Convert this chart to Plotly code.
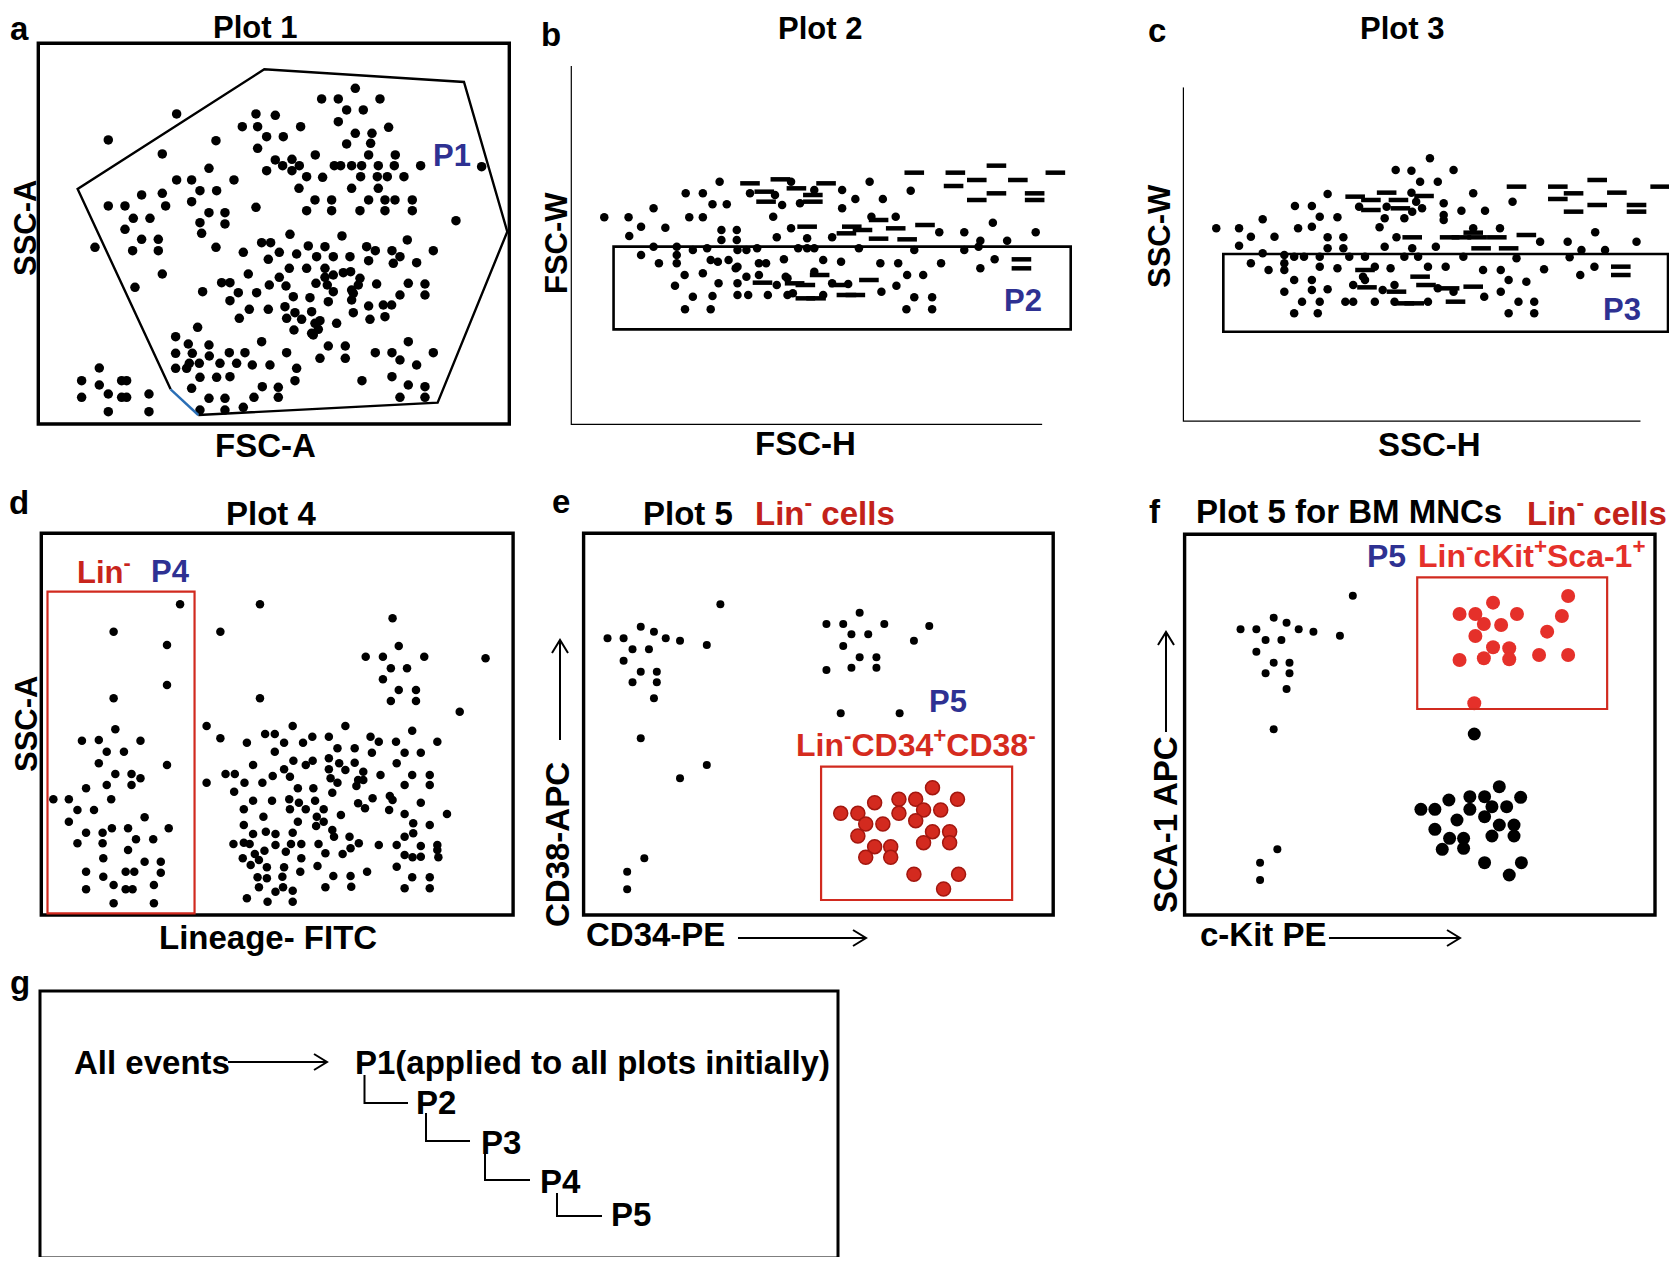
import plotly.graph_objects as go

W, H = 1677, 1265          # reference canvas
PAGE_MARGIN = 8            # default body margin of the written html page
FW, FH = W - 2 * PAGE_MARGIN, H - 2 * PAGE_MARGIN

# ---------------- data (arbitrary instrument units) ----------------
# Plot 1: FSC-A (x) vs SSC-A (y)
plot1_events = [
    (1066,1035),(965,1003),(1015,1003),(1140,1003),(1040,970),(1090,970),(530,958),(768,958),(826,954),
    (1015,935),(1166,918),(727,920),(773,920),(902,920),(1066,900),(1116,900),(800,890),(850,890),
    (325,880),(648,878),(1040,868),(1112,870),(773,855),(487,838),(946,835),(1106,835),(1186,835),
    (826,820),(876,822),(848,803),(898,803),(1003,803),(1022,803),(1055,803),(1085,803),(1135,803),
    (1183,803),(1262,803),(1445,800),(627,795),(800,788),(876,788),(530,760),(575,760),(702,760),
    (920,770),(968,768),(1082,770),(1132,770),(1162,770),(1212,770),(600,728),(650,728),(897,735),
    (1055,735),(1135,735),(425,715),(487,720),(575,695),(945,700),(995,700),(1106,700),(1155,700),
    (1185,700),(1237,700),(325,682),(375,682),(497,682),(768,678),(920,668),(995,668),(1080,668),
    (1155,668),(1237,668),(627,662),(675,662),(400,645),(450,645),(1368,638),(600,632),(675,628),
    (375,612),(605,600),(870,597),(1026,592),(785,572),(812,572),(1222,580),(425,582),(475,582),
    (398,548),(475,548),(648,558),(730,543),(838,543),(925,562),(975,560),(1100,560),(1126,548),
    (1176,548),(1300,548),(285,558),(805,522),(890,538),(950,530),(1000,530),(1050,530),(1106,518),
    (1200,530),(1250,512),(1180,510),(868,495),(920,495),(975,495),(1030,482),(1080,465),(1052,485),
    (745,478),(487,478),(838,468),(975,468),(1000,475),(665,452),(690,452),(808,445),(858,442),
    (948,450),(1075,445),(1130,448),(1225,450),(1275,448),(405,438),(982,445),(608,425),(715,422),
    (770,422),(1000,425),(1060,420),(1275,415),(880,410),(930,407),(1200,415),(1055,430),(690,398),
    (985,395),(1150,385),(1106,382),(1055,400),(855,380),(748,372),(805,372),(885,362),(935,365),
    (1060,362),(1175,385),(718,345),(860,345),(905,342),(960,338),(1110,342),(1155,350),(945,330),
    (1010,330),(882,310),(935,300),(955,312),(593,318),(940,295),(527,290),(565,268),(627,265),
    (785,275),(1225,275),(985,262),(1036,262),(527,240),(577,240),(628,232),(688,242),(735,242),
    (860,242),(1126,242),(1176,242),(1300,242),(1036,225),(960,225),(568,210),(598,210),(660,210),
    (710,210),(757,205),(810,205),(1200,220),(1250,205),(527,195),(560,195),(890,195),(1176,170),
    (600,168),(650,168),(690,170),(885,158),(1086,158),(1225,145),(575,135),(787,140),(835,138),
    (1275,140),(627,105),(675,105),(762,108),(835,108),(1200,108),(1275,108),(600,70),(675,70),
    (730,78),(245,158),(245,108),(298,196),(298,145),(325,118),(325,65),(365,158),(380,158),
    (365,108),(380,108),(447,118),(447,65),
]
plot1_gate_P1 = [(512,132),(233,733),(793,1092),(1392,1054),(1522,605),(1313,92),(595,55)]
plot1_gate_edge = [(512,132),(595,55)]

# Plot 2: FSC-H (x) vs FSC-W (y)
plot2_round = [
    (1150,728),(1035,755),(1072,703),(995,703),(958,730),(615,755),(815,755),(880,730),(700,720),
    (770,715),(840,690),(790,685),(635,687),(595,687),(520,720),(568,720),(430,675),(292,648),
    (360,648),(530,648),(568,648),(765,650),(958,675),(395,620),(463,617),(362,592),(620,610),
    (663,610),(620,580),(663,580),(815,615),(860,585),(775,588),(930,588),(1040,650),(1108,650),
    (1230,603),(1300,603),(1380,632),(1500,603),(1345,578),(1420,578),(430,560),(495,560),(540,550),
    (580,555),(665,550),(690,550),(720,555),(835,555),(860,555),(880,555),(1005,555),(1160,550),
    (1300,550),(1340,560),(395,535),(445,510),(495,535),(495,510),(590,520),(610,515),(640,520),
    (665,500),(725,510),(745,510),(795,522),(905,520),(955,515),(1065,510),(1115,510),(1235,510),
    (1385,522),(1345,495),(517,475),(568,480),(725,475),(800,470),(880,485),(1140,475),(1185,475),
    (660,495),(490,443),(612,450),(665,450),(690,470),(775,445),(805,465),(930,450),(975,448),
    (1110,443),(540,410),(595,412),(665,415),(695,415),(750,415),(805,415),(820,420),(905,415),
    (1068,425),(1160,408),(1210,408),(518,372),(590,372),(1138,372),(1210,372),
]
plot2_flat = [
    (1160,782),(1275,782),(1390,803),(1555,782),(1270,742),(1335,760),(1450,760),(1390,720),
    (1335,700),(1497,720),(1497,700),(700,750),(785,762),(913,750),(740,725),(745,695),(830,735),
    (876,715),(876,695),(860,620),(985,620),(1060,640),(1108,615),(1190,625),(1060,584),(970,600),
    (1015,610),(1140,582),(1460,522),(1460,495),(1033,460),(735,452),(825,450),(855,445),(895,475),
    (950,445),(855,405),(885,405),(970,415),(995,415),
]
plot2_gate_P2 = [(318,312),(1598,560)]
plot2_axes = [(198,1102),(198,25),(1518,25)]

# Plot 3: SSC-H (x) vs SSC-W (y)
plot3_round = [
    (940,825),(853,790),(893,788),(1000,790),(915,755),(960,755),(1150,695),(1050,720),(1080,668),
    (1020,668),(975,690),(680,718),(893,722),(760,680),(830,680),(905,695),(920,675),(895,665),
    (975,655),(975,640),(825,645),(875,645),(660,650),(705,648),(597,682),(640,682),(515,642),
    (397,615),(455,615),(605,615),(640,620),(812,618),(1050,615),(1118,615),(485,590),(545,590),
    (455,563),(680,588),(720,588),(680,555),(720,555),(855,588),(825,560),(895,555),(955,560),
    (1220,575),(1290,575),(1360,603),(1465,575),(1325,550),(1385,550),(515,540),(570,535),(595,530),
    (620,530),(660,530),(735,530),(775,530),(875,530),(910,530),(1025,530),(1160,525),(1295,528),
    (485,510),(530,490),(570,510),(570,490),(660,500),(705,495),(800,500),(840,495),(935,500),
    (980,500),(1075,490),(1120,490),(1230,492),(1358,500),(1322,475),(770,470),(595,460),(640,460),
    (775,460),(1140,460),(1185,455),(570,425),(640,430),(680,432),(745,445),(820,430),(850,445),
    (960,435),(1000,425),(1120,425),(615,395),(660,395),(725,395),(745,395),(800,395),(850,395),
    (935,395),(1078,410),(1165,395),(1205,395),(595,360),(655,360),(1140,360),(1205,360),
]
plot3_flat = [
    (1160,740),(1265,740),(1365,760),(1525,740),(1265,703),(1305,720),(1415,722),(1365,685),
    (1305,665),(1465,685),(1465,665),(750,710),(830,722),(860,700),(925,712),(790,700),(790,670),
    (865,675),(895,588),(990,588),(1020,588),(1050,602),(1060,588),(1110,588),(1185,595),(1070,555),
    (1140,555),(1425,500),(1425,475),(775,490),(915,470),(780,438),(855,425),(930,445),(990,435),
    (1050,440),(875,390),(900,390),(1005,395),
]
plot3_gate_P3 = [(415,305),(1545,538)]
plot3_axes = [(312,1038),(312,35),(1475,35)]

# Plot 4: Lineage-FITC (x) vs SSC-A (y)
plot4_events = [
    (523,997),(330,915),(485,875),(485,755),(330,715),(335,622),(238,588),(287,590),(408,588),
    (310,555),(360,555),(287,520),(485,515),(335,488),(382,488),(408,475),(382,455),(250,445),
    (310,455),(155,412),(200,412),(323,412),(225,380),(273,380),(420,358),(200,345),(250,312),
    (298,312),(325,325),(372,325),(490,325),(225,280),(298,280),(395,292),(445,292),(372,260),
    (300,235),(420,225),(467,225),(250,195),(300,180),(365,195),(390,195),(467,192),(250,142),
    (330,155),(365,142),(385,142),(447,155),(330,100),(447,100),
    (755,997),(640,915),(1140,955),(1158,872),(1062,840),(1112,840),(1232,840),(1410,835),(1135,805),
    (1182,805),(1112,772),(1158,740),(1208,740),(1135,707),(1208,707),(755,715),(1335,675),(600,632),
    (850,632),(1003,632),(640,595),(717,582),(770,608),(798,608),(825,582),(880,582),(907,600),
    (955,600),(1076,600),(1100,585),(1150,585),(1197,618),(1270,585),(798,555),(980,565),(1030,565),
    (1080,552),(1175,552),(1222,552),(735,515),(825,502),(852,528),(888,515),(908,528),(955,535),
    (985,520),(1003,500),(1030,522),(1055,495),(1152,520),(955,502),(960,475),(1040,470),(1105,485),
    (1197,485),(1248,485),(600,462),(655,488),(682,488),(710,462),(762,462),(792,482),(842,480),
    (980,462),(1055,470),(1175,455),(1248,455),(865,445),(910,445),(965,432),(1035,452),(680,435),
    (1082,415),(1132,422),(1140,410),(735,408),(790,408),(840,412),(868,402),(915,408),(940,382),
    (990,365),(708,382),(842,382),(888,382),(1040,400),(1060,385),(1130,380),(1222,402),(1298,368),
    (1175,368),(765,360),(865,345),(920,360),(940,345),(708,335),(918,332),(965,320),(1200,340),
    (1248,335),(735,308),(772,315),(800,308),(850,312),(970,300),(1015,300),(1175,300),(1200,310),
    (678,278),(708,282),(725,278),(800,275),(845,278),(875,278),(925,278),(1042,280),(1100,275),
    (1152,275),(1222,272),(1270,275),(1018,265),(768,258),(740,248),(830,255),(875,235),(945,250),
    (995,248),(1175,245),(1198,238),(1222,240),(1273,238),(1270,260),(705,235),(728,215),(752,230),
    (775,208),(825,208),(922,212),(1152,210),(1066,195),(872,195),(748,178),(775,175),(820,180),
    (968,182),(1018,182),(1197,178),(1248,178),(752,148),(800,135),(822,148),(850,138),(945,148),
    (1020,150),(1175,145),(1248,145),(717,115),(777,105),(850,105),
]
plot4_gate_P4 = [(138,70),(565,1035)]

# Plot 5 (Lin- cells): CD34-PE (x) vs CD38-APC (y)
plot5_other = [
    (533,997),(217,895),(262,895),(310,930),(347,915),(380,895),(420,888),(495,875),(287,862),
    (333,862),(262,828),(310,795),(355,795),(287,763),(355,763),(347,715),(310,595),(420,475),
    (495,515),(320,235),(272,195),(272,142),(923,972),(830,938),(877,938),(992,938),(1118,932),
    (900,907),(947,907),(1075,888),(877,872),(923,838),(970,838),(830,800),(900,807),(970,807),
    (870,670),(1035,670),
]
plot5_cd34pos_cd38neg = [
    (1127,447),(965,402),(1033,412),(1080,412),(1197,412),(870,370),(918,370),(1102,380),(1150,380),
    (1033,370),(940,338),(988,338),(1080,348),(918,302),(1127,315),(1175,315),(965,270),(1010,270),
    (1102,282),(1175,282),(940,238),(1010,238),(1075,187),(1200,187),(1158,143),
]
plot5_gate_P5 = [(815,110),(1350,510)]

# Plot 5 for BM MNCs: c-Kit PE (x) vs SCA-1 APC (y)
plot5bm_small = [
    (687,1023),(382,922),(425,922),(472,957),(507,942),(540,922),(580,915),(652,903),(450,890),
    (493,890),(425,855),(472,822),(515,822),(450,790),(515,790),(507,743),(472,622),(482,262),
    (435,222),(435,170),
]
plot5bm_ckit = [
    (1017,608),(1085,450),(948,410),(1005,420),(1045,420),(1143,418),(872,382),(910,382),(1005,382),
    (1065,390),(1105,390),(1045,360),(970,350),(910,322),(1085,335),(1125,335),(950,295),(988,295),
    (1065,302),(1125,302),(930,262),(988,265),(1045,222),(1145,222),(1112,185),
]
plot5bm_lsk = [
    (1272,1022),(1068,1002),(977,968),(1020,968),(1133,968),(1255,962),(1043,938),(1090,935),
    (1215,915),(1020,902),(1068,868),(1112,865),(977,830),(1043,835),(1112,832),(1193,845),
    (1272,845),(1017,700),
]
plot5bm_gate_P5 = [(862,683),(1378,1078)]

# gating hierarchy (panel g)
hierarchy_labels = ["P2", "P3", "P4", "P5"]

# ---------------- layout helpers (reference pixel -> paper fraction) ----------------
def fx(p):
    return (p - PAGE_MARGIN) / FW

def fy(p):
    return 1 - (p - PAGE_MARGIN) / FH

BLACK = "black"
BLUE = "#2E3192"
RED = "#D52B1E"
DARKRED = "#C3221A"
FONT = "Liberation Sans, Arial, sans-serif"

panels = [
    dict(L=38.3, R=509.3, T=43.3, B=424.0, xr=(115, 1528), yr=(28, 1170)),
    dict(L=570.7, R=1100.0, T=66.0, B=425.0, xr=(198, 1680), yr=(25, 1102)),
    dict(L=1182.8, R=1669.0, T=87.3, B=421.7, xr=(312, 1547.5), yr=(35, 1038)),
    dict(L=41.3, R=513.1, T=533.3, B=915.0, xr=(120, 1490), yr=(65, 1210)),
    dict(L=583.6, R=1053.2, T=533.3, B=915.0, xr=(150, 1465), yr=(65, 1210)),
    dict(L=1184.6, R=1655.0, T=534.3, B=915.0, xr=(230, 1508), yr=(65, 1207)),
]

fig = go.Figure()
layout = dict(
    width=FW, height=FH, margin=dict(l=0, r=0, t=0, b=0),
    paper_bgcolor="white", plot_bgcolor="white", showlegend=False,
)
for i, p in enumerate(panels, start=1):
    sfx = "" if i == 1 else str(i)
    layout["xaxis" + sfx] = dict(domain=[max(0, fx(p["L"])), min(1, fx(p["R"]))], range=list(p["xr"]),
                                 visible=False, fixedrange=True, anchor="y" + sfx)
    layout["yaxis" + sfx] = dict(domain=[fy(p["B"]), fy(p["T"])], range=list(p["yr"]),
                                 visible=False, fixedrange=True, anchor="x" + sfx)
fig.update_layout(**layout)


def ax(i):
    return ("x", "y") if i == 1 else ("x%d" % i, "y%d" % i)


def add_points(i, pts, size, color=BLACK, symbol="circle", lw=0, lc=None):
    xa, ya = ax(i)
    if symbol == "line-ew":
        marker = dict(symbol=symbol, size=size, line=dict(width=lw, color=color))
    else:
        marker = dict(symbol=symbol, size=size, color=color,
                      line=dict(width=lw, color=lc or color))
    fig.add_trace(go.Scatter(x=[q[0] for q in pts], y=[q[1] for q in pts], mode="markers",
                             xaxis=xa, yaxis=ya, marker=marker, cliponaxis=False,
                             hoverinfo="skip"))


add_points(1, plot1_events, 9.5)
add_points(2, plot2_round, 8.5)
add_points(2, plot2_flat, 14, symbol="line-ew", lw=4.5)
add_points(3, plot3_round, 8.5)
add_points(3, plot3_flat, 14, symbol="line-ew", lw=4.5)
add_points(4, plot4_events, 8.5)
add_points(5, plot5_other, 8)
add_points(5, plot5_cd34pos_cd38neg, 14, color="#D32A1F", lw=1.5, lc="#A3170F")
add_points(6, plot5bm_small, 8)
add_points(6, plot5bm_ckit, 13)
add_points(6, plot5bm_lsk, 14, color="#E5302A")

shapes = []
for i in (1, 4, 5, 6):
    xa, ya = ax(i)
    shapes.append(dict(type="rect", xref=xa + " domain", yref=ya + " domain", x0=0, x1=1, y0=0, y1=1,
                       line=dict(color=BLACK, width=3.4)))
for i, pts in ((2, plot2_axes), (3, plot3_axes)):
    xa, ya = ax(i)
    path = "M " + " L ".join("%g,%g" % q for q in pts)
    shapes.append(dict(type="path", xref=xa, yref=ya, path=path, line=dict(color=BLACK, width=2.4)))

path = "M " + " L ".join("%g,%g" % q for q in plot1_gate_P1)
shapes.append(dict(type="path", xref="x", yref="y", path=path, line=dict(color=BLACK, width=2.4)))
shapes.append(dict(type="line", xref="x", yref="y", x0=plot1_gate_edge[0][0], y0=plot1_gate_edge[0][1],
                   x1=plot1_gate_edge[1][0], y1=plot1_gate_edge[1][1], line=dict(color="#2A6EB5", width=2.4)))
for i, g in ((2, plot2_gate_P2), (3, plot3_gate_P3)):
    xa, ya = ax(i)
    shapes.append(dict(type="rect", xref=xa, yref=ya, x0=g[0][0], y0=g[0][1], x1=g[1][0], y1=g[1][1],
                       line=dict(color=BLACK, width=2.6)))
for i, g in ((4, plot4_gate_P4), (5, plot5_gate_P5), (6, plot5bm_gate_P5)):
    xa, ya = ax(i)
    shapes.append(dict(type="rect", xref=xa, yref=ya, x0=g[0][0], y0=g[0][1], x1=g[1][0], y1=g[1][1],
                       line=dict(color="#D12A1F", width=2.2)))


def ppath(segs):
    out = []
    for seg in segs:
        out.append("M " + " L ".join("%.5f,%.5f" % (fx(a), fy(b)) for a, b in seg))
    return " ".join(out)


def arrow_right(x0, x1, y, w=2.0):
    shapes.append(dict(type="path", xref="paper", yref="paper",
                       path=ppath([[(x0, y), (x1, y)], [(x1 - 13, y - 8), (x1, y), (x1 - 13, y + 8)]]),
                       line=dict(color=BLACK, width=w)))


def arrow_up(x, y0, y1, w=2.0):
    shapes.append(dict(type="path", xref="paper", yref="paper",
                       path=ppath([[(x, y0), (x, y1)], [(x - 8, y1 + 13), (x, y1), (x + 8, y1 + 13)]]),
                       line=dict(color=BLACK, width=w)))


arrow_up(560, 740, 640)
arrow_right(738, 866, 938)
arrow_up(1166, 732, 632)
arrow_right(1329, 1460, 938)

shapes.append(dict(type="rect", xref="paper", yref="paper", x0=fx(40), x1=fx(838), y0=fy(991), y1=fy(1258),
                   line=dict(color=BLACK, width=3)))
arrow_right(228, 327, 1062)
elbows = [(364.5, 1075, 1103, 408), (426, 1113, 1141, 470), (485, 1152, 1180, 530), (557, 1193, 1216, 602)]
for x, ya_, yb, xe in elbows:
    shapes.append(dict(type="path", xref="paper", yref="paper",
                       path=ppath([[(x, ya_), (x, yb), (xe, yb)]]), line=dict(color=BLACK, width=2)))

fig.update_layout(shapes=shapes)

ann = []


def txt(s, x, y, size=33, color=BLACK, angle=0, xanchor="center", bold=True):
    ann.append(dict(text=("<b>%s</b>" % s) if bold else s, x=fx(x), y=fy(y), xref="paper", yref="paper",
                    showarrow=False, xanchor=xanchor, yanchor="middle", textangle=angle,
                    font=dict(family=FONT, size=size, color=color)))


for s, x, y in (("a", 19, 28), ("b", 551, 34), ("c", 1157, 31), ("d", 19, 502), ("e", 561, 501),
                ("f", 1155, 511), ("g", 20, 982)):
    txt(s, x, y, size=33)

txt("Plot 1", 255, 27, size=31)
txt("Plot 2", 820, 28, size=31)
txt("Plot 3", 1402, 28, size=31)
txt("Plot 4", 271, 513)
txt("Plot 5", 688, 513)
txt("Lin<sup>-</sup> cells", 825, 511, color=DARKRED)
txt("Plot 5 for BM MNCs", 1349, 511)
txt("Lin<sup>-</sup> cells", 1597, 511, color=DARKRED)

txt("SSC-A", 25, 228, size=31, angle=-90)
txt("FSC-A", 265, 445)
txt("FSC-W", 556, 243, size=31, angle=-90)
txt("FSC-H", 805, 443)
txt("SSC-W", 1159, 236, size=31, angle=-90)
txt("SSC-H", 1429, 444)
txt("SSC-A", 26, 724, size=31, angle=-90)
txt("Lineage- FITC", 268, 937)
txt("CD38-APC", 557, 845, angle=-90)
txt("CD34-PE", 584, 934, xanchor="left")
txt("SCA-1 APC", 1165, 825, angle=-90)
txt("c-Kit PE", 1198, 934, xanchor="left")

txt("P1", 452, 155, size=31, color=BLUE)
txt("P2", 1023, 300, size=31, color=BLUE)
txt("P3", 1622, 309, size=31, color=BLUE)
txt("Lin<sup>-</sup>", 75, 570, size=31, color="#C8241C", xanchor="left")
txt("P4", 170, 571, size=31, color=BLUE)
txt("P5", 948, 701, size=31, color=BLUE)
txt("Lin<sup>-</sup>CD34<sup>+</sup>CD38<sup>-</sup>", 916, 743, size=32, color=RED)
txt("P5", 1386, 556, size=32, color=BLUE)
txt("Lin<sup>-</sup>cKit<sup>+</sup>Sca-1<sup>+</sup>", 1531, 554, size=32, color="#E5302A")

txt("All events", 72, 1062, size=33, xanchor="left")
txt("P1(applied to all plots initially)", 353, 1062, size=33, xanchor="left")
for s, x, y in zip(hierarchy_labels, [414, 479, 538, 609], [1102, 1142, 1181, 1214]):
    txt(s, x, y, size=33, xanchor="left")

fig.update_layout(annotations=ann)
fig.write_html("out.html")
